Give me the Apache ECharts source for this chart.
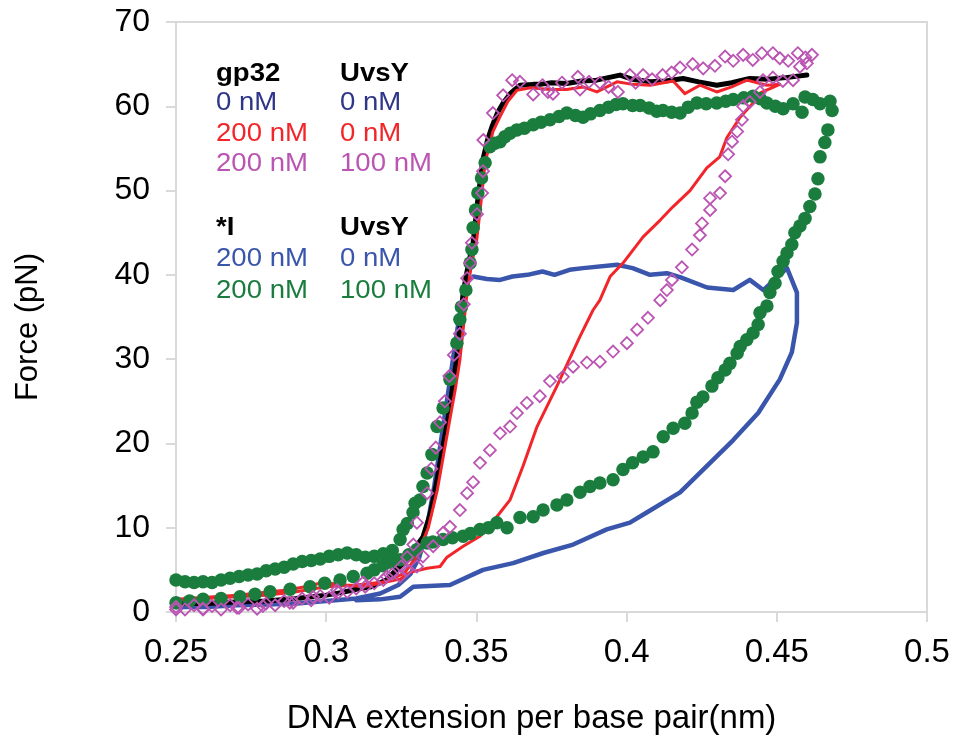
<!DOCTYPE html>
<html>
<head>
<meta charset="utf-8">
<title>Force–extension curves</title>
<script src="https://cdn.jsdelivr.net/npm/echarts@6/dist/echarts.min.js"></script>
<style>
  html, body { margin: 0; padding: 0; background: #fff; }
  #chart { width: 955px; height: 743px; }
</style>
</head>
<body>
<div id="chart"></div>
<script>
// Axis ranges (nm per base pair, pN)
const xRange = { min: 0.25, max: 0.5, interval: 0.05 };
const yRange = { min: 0, max: 70, interval: 10 };

// gp32 0 nM, UvsY 0 nM — stretch and relax overlap
const bare = [
  [0.25,1.0],[0.26,1.0],[0.27,1.2],[0.28,1.3],[0.29,1.6],[0.30,2.0],[0.305,2.3],[0.31,2.7],
  [0.315,3.0],[0.32,3.8],[0.3256,5.8],[0.33,7.8],[0.3322,8.9],[0.3345,11.5],[0.3356,13.3],
  [0.3369,15.7],[0.3385,19],[0.3405,22.8],[0.342,26.5],[0.3434,29.9],[0.3446,34],[0.3456,37.9],
  [0.3472,41],[0.3489,43.8],[0.3505,49],[0.3522,53.7],[0.3537,56],[0.3552,57.6],[0.357,59.2],
  [0.3589,60.4],[0.3615,61.6],[0.3645,62.5],[0.3689,62.6],[0.3712,62.6],[0.375,62.8],[0.3801,62.7],
  [0.385,63.0],[0.39,63.1],[0.3978,63.7],[0.402,63.2],[0.4078,62.9],[0.413,63.0],[0.4188,63.3],
  [0.424,62.9],[0.43,62.5],[0.435,62.8],[0.441,63.3],[0.447,63.2],[0.453,63.4],[0.46,63.7]
];

// gp32 200 nM, UvsY 0 nM — stretch then relax
const gp32 = [
  [0.25,1.4],[0.26,1.6],[0.27,1.8],[0.28,2.0],[0.29,2.4],[0.30,3.0],[0.31,3.2],[0.32,3.6],
  [0.326,4.6],[0.33,6.5],[0.334,10],[0.337,14.5],[0.339,18.5],[0.341,22.5],[0.343,26.5],
  [0.3445,29.9],[0.3469,37.9],[0.3485,41.5],[0.35,43.8],[0.3515,48.5],[0.3529,53.3],[0.3555,57],
  [0.3579,58.8],[0.3605,60.6],[0.3635,61.9],[0.368,62.2],[0.3745,62.0],[0.38,62.0],[0.3855,62.3],
  [0.3901,61.7],[0.3968,62.9],[0.402,62.6],[0.4078,62.5],[0.4155,63.0],[0.4194,61.5],[0.4244,62.5],
  [0.43,61.7],[0.435,62.3],[0.44,63.1],[0.4467,62.5],[0.451,62.6],
  [0.4445,61.6],[0.4421,60.4],[0.4378,58.7],[0.4334,56.3],[0.431,54],[0.4267,52.7],[0.4211,50],
  [0.4155,48.1],[0.4112,46.5],[0.4055,44.5],[0.3988,41.4],[0.3945,39.8],[0.3911,37],[0.3888,35.8],
  [0.3845,32.7],[0.3768,26.8],[0.3702,22],[0.3655,17.3],[0.3612,13.3],[0.3568,11.3],[0.3512,9.0],
  [0.3456,7.8],[0.3402,6.5],[0.3379,5.4],[0.3336,5.2],[0.3279,4.7],[0.3246,3.9],[0.3123,3.0],
  [0.304,3.3],[0.2989,3.5],[0.293,3.0],[0.287,2.6],[0.2703,2.0],[0.25,1.5]
];

// gp32 200 nM, UvsY 100 nM
const gp32UvsY = [
  [0.25,0.6],[0.253,0.3],[0.256,0.8],[0.259,0.4],[0.262,0.7],[0.265,0.3],[0.268,0.8],[0.271,0.5],
  [0.274,0.9],[0.277,0.4],[0.28,1.0],[0.283,0.8],[0.286,1.3],[0.289,1.1],[0.292,1.6],[0.295,1.4],
  [0.298,1.9],[0.301,1.7],[0.304,2.3],[0.307,2.4],[0.31,2.8],[0.313,3.0],[0.316,3.4],[0.319,3.8],
  [0.322,4.5],[0.325,5.4],[0.327,6.5],[0.329,8.0],[0.3302,10.6],[0.3336,14.1],[0.335,17],
  [0.3365,19.5],[0.3379,22.5],[0.3395,25],[0.341,28],[0.3425,30.5],[0.3445,33],[0.3458,36.5],
  [0.3469,39.6],[0.3479,41.4],[0.3485,43.8],[0.3502,47.2],[0.3519,49.7],[0.3522,52.3],[0.3523,56],
  [0.3555,59.2],[0.3589,61.3],[0.3619,63.1],[0.3645,62.9],[0.3689,61.4],[0.372,62.5],[0.3738,61.7],
  [0.3755,61.5],[0.3785,62.8],[0.3838,63.5],[0.3845,62.0],[0.3875,62.9],[0.3911,62.8],[0.394,62.3],
  [0.3971,61.7],[0.4011,63.7],[0.403,62.8],[0.4055,63.7],[0.4085,63.2],[0.412,63.7],[0.415,64.0],
  [0.4178,64.6],[0.422,65.0],[0.4255,64.5],[0.4294,64.8],[0.4328,65.9],[0.4355,65.4],[0.4388,66.1],
  [0.442,65.5],[0.445,66.3],[0.4487,66.3],[0.451,65.7],[0.4538,65.4],[0.457,66.3],[0.4595,65.8],
  [0.4617,66.1],
  [0.46,65.1],[0.4577,64.7],[0.4554,63.1],[0.452,63.0],[0.4487,63.4],[0.4454,63.1],[0.4444,61.7],
  [0.441,60.5],[0.4388,60.0],[0.4384,58.4],[0.4368,57.0],[0.4351,55.8],[0.4338,54.3],[0.4328,51.7],
  [0.4311,49.7],[0.4278,49.1],[0.4278,47.7],[0.4251,46.1],[0.4244,44.7],[0.4218,43.0],[0.4184,40.9],
  [0.4151,39.4],[0.4134,38.2],[0.4112,37.0],[0.4071,34.9],[0.4035,33.5],[0.4001,31.9],[0.3955,30.9],
  [0.3911,29.7],[0.3868,29.6],[0.3822,29.1],[0.3788,27.9],[0.3745,27.4],[0.3711,25.6],[0.3668,24.8],
  [0.3635,23.6],[0.3612,22.0],[0.3579,21.2],[0.3545,19.2],[0.3512,17.7],[0.3489,15.4],[0.3469,14.1],
  [0.3445,12.1],[0.3412,10.1],[0.3389,9.4],[0.3356,7.8],[0.3322,6.6],[0.3302,5.4],[0.3269,5.0],
  [0.3246,4.2],[0.3202,4.2],[0.3123,3.5],[0.3036,2.6],[0.2956,1.8],[0.2879,1.1],[0.2789,0.7],
  [0.2703,0.5],[0.259,0.3],[0.25,0.3]
];

// *I 200 nM, UvsY 0 nM
const starI = [
  [0.25,0.6],[0.26,0.6],[0.27,0.8],[0.28,0.9],[0.29,1.0],[0.30,1.3],[0.31,1.6],[0.318,2.2],
  [0.324,3.2],[0.328,4.5],[0.331,6.5],[0.3335,10],[0.336,15],[0.3385,21],[0.341,27],[0.343,32],
  [0.345,36.5],[0.3465,39],[0.3489,39.8],[0.3535,39.5],[0.3579,39.4],[0.362,39.8],[0.367,40.0],
  [0.372,40.4],[0.376,40.0],[0.381,40.6],[0.3855,40.8],[0.3968,41.2],[0.402,40.8],[0.4078,40.0],
  [0.4134,40.2],[0.418,39.7],[0.4268,38.5],[0.4355,38.2],[0.441,39.4],[0.4455,38.2],[0.4534,40.8],
  [0.4567,37.9],[0.4567,34.3],[0.455,30.8],[0.451,27.6],[0.4438,23.6],[0.4355,20.4],[0.4244,16.5],
  [0.4178,14.2],[0.4067,11.8],[0.4011,10.6],[0.3934,9.8],[0.3822,8.0],[0.3723,7.0],[0.3622,5.8],
  [0.3522,5.0],[0.3412,3.2],[0.329,3.0],[0.3246,1.8],[0.318,1.5],[0.31,1.4]
];

// *I 200 nM, UvsY 100 nM
const starIUvsY = [
  [0.25,3.8],[0.253,3.6],[0.256,3.5],[0.259,3.6],[0.262,3.5],[0.265,3.8],[0.268,4.0],[0.271,4.2],
  [0.274,4.4],[0.277,4.5],[0.28,4.9],[0.283,5.1],[0.286,5.3],[0.289,5.7],[0.292,6.0],[0.295,6.1],
  [0.298,6.3],[0.301,6.6],[0.304,6.8],[0.307,7.0],[0.31,6.8],[0.313,6.5],[0.316,6.6],[0.319,6.9],
  [0.322,7.3],[0.3246,8.6],[0.3256,9.8],[0.327,10.5],[0.3289,11.8],[0.3296,12.9],[0.3312,13.3],
  [0.3322,14.9],[0.3336,16.5],[0.3352,18.7],[0.3369,22],[0.3389,24.2],[0.3412,27.6],[0.3435,31.9],
  [0.3445,34.7],[0.345,36.2],[0.3465,38.2],[0.3479,41.4],[0.3485,43],[0.3489,45.6],[0.3497,47.7],
  [0.3505,49.7],[0.3517,51.5],[0.3529,53.3],[0.3545,55.2],[0.356,55.6],[0.3579,55.8],[0.3595,56.4],
  [0.3612,56.8],[0.3635,57.2],[0.366,57.4],[0.3689,57.8],[0.3715,58.1],[0.3745,58.4],[0.3775,58.8],
  [0.3801,59.2],[0.383,58.9],[0.3855,58.7],[0.388,59.1],[0.3911,59.5],[0.394,59.9],[0.3965,60.2],
  [0.3988,60.3],[0.402,60.1],[0.4045,60.1],[0.4075,59.8],[0.41,59.4],[0.4121,59.5],[0.415,59.3],
  [0.4178,59.2],[0.4205,59.9],[0.4234,60.4],[0.4265,60.3],[0.43,60.4],[0.433,60.6],[0.4355,60.8],
  [0.439,61.0],[0.4421,61.2],[0.4445,60.9],[0.4467,60.4],[0.4495,60.0],[0.4521,59.7],[0.4554,60.3],
  [0.4584,59.3],[0.4594,61.1],[0.462,60.8],[0.4644,60.3],[0.4677,60.6],[0.4684,59.5],
  [0.467,57.2],[0.466,55.7],[0.4644,54.0],[0.4637,51.4],[0.4627,49.6],[0.461,48.1],[0.4594,46.7],
  [0.4577,45.8],[0.456,45.0],[0.455,43.6],[0.4534,42.6],[0.4521,41.6],[0.4504,40.4],[0.4494,39.0],
  [0.4477,37.9],[0.4467,36.3],[0.4444,35.5],[0.4438,34.1],[0.4421,33.1],[0.44,32.3],[0.4378,31.5],
  [0.4368,30.7],[0.4344,29.5],[0.4328,28.7],[0.4304,27.8],[0.4284,26.8],[0.4254,25.5],[0.4234,24.9],
  [0.4218,23.6],[0.4194,22.4],[0.4155,21.8],[0.4122,20.8],[0.4088,19.0],[0.4055,18.4],[0.402,17.7],
  [0.3988,16.9],[0.3955,15.7],[0.3911,15.3],[0.3878,14.9],[0.3845,14.2],[0.3801,13.3],[0.3768,12.7],
  [0.3722,12.1],[0.3689,11.3],[0.3645,11.2],[0.3602,10.0],[0.3568,10.6],[0.354,10.0],[0.3512,9.8],
  [0.348,9.3],[0.3456,9.0],[0.342,8.8],[0.3389,8.6],[0.3355,8.3],[0.3336,8.2],[0.3302,7.4],
  [0.3275,6.8],[0.3246,6.2],[0.3215,5.9],[0.3189,5.5],[0.316,5.0],[0.3136,4.6],[0.309,4.2],
  [0.3046,3.8],[0.2995,3.4],[0.2946,3.0],[0.288,2.7],[0.2813,2.4],[0.2763,2.1],[0.2713,1.8],
  [0.265,1.6],[0.259,1.5],[0.2545,1.3],[0.25,1.1]
];

// Key: two column blocks with headers
const keyHeaders = [['gp32', 'UvsY'], ['*I', 'UvsY']];
const keyRows = [
  ['0 nM', '0 nM', '#2D3688'],
  ['200 nM', '0 nM', '#F2262A'],
  ['200 nM', '100 nM', '#BB55B3'],
  ['200 nM', '0 nM', '#3A56AC'],
  ['200 nM', '100 nM', '#1A7D3E']
];

const FONT = '"Liberation Sans", Arial, sans-serif';
const chart = echarts.init(document.getElementById('chart'), null, { renderer: 'canvas' });

// text layout for the key
const keyX = [216, 340];
const keyLineY = [74, 103, 134, 164, 228, 259, 291];
const keyOrder = [
  { row: keyHeaders[0], color: '#000', bold: true },
  { row: keyRows[0], color: keyRows[0][2] },
  { row: keyRows[1], color: keyRows[1][2] },
  { row: keyRows[2], color: keyRows[2][2] },
  { row: keyHeaders[1], color: '#000', bold: true },
  { row: keyRows[3], color: keyRows[3][2] },
  { row: keyRows[4], color: keyRows[4][2] }
];
const keyGraphics = [];
keyOrder.forEach((line, i) => {
  [0, 1].forEach(c => {
    keyGraphics.push({
      type: 'text',
      x: keyX[c],
      y: keyLineY[i],
      scaleX: 1.06,
      style: {
        text: line.row[c],
        fill: line.color,
        font: (line.bold ? 'bold ' : '') + '26px ' + FONT,
        textVerticalAlign: 'middle',
        verticalAlign: 'middle'
      }
    });
  });
});

const lineSeries = (name, data, color, width) => ({
  name, type: 'line', data, showSymbol: false, symbol: 'none',
  lineStyle: { color, width, join: 'round', cap: 'round' },
  itemStyle: { color }, z: 3
});

const option = {
  animation: false,
  backgroundColor: '#fff',
  grid: {
    left: 176, right: 28, top: 22, bottom: 131,
    show: true, borderColor: '#d9d9d9', borderWidth: 2
  },
  xAxis: {
    type: 'value',
    min: xRange.min, max: xRange.max, interval: xRange.interval,
    name: 'DNA extension per base pair(nm)',
    nameLocation: 'middle', nameGap: 90,
    nameTextStyle: { fontFamily: FONT, fontSize: 33, color: '#000', padding: [0, 40, 0, 0] },
    axisLine: { show: true, lineStyle: { color: '#d9d9d9', width: 2 } },
    axisTick: { show: true, length: 10, lineStyle: { color: '#d9d9d9', width: 2 } },
    splitLine: { show: false },
    axisLabel: {
      fontFamily: FONT, fontSize: 33, color: '#000', margin: 24,
      formatter: v => String(+v.toFixed(2))
    }
  },
  yAxis: {
    type: 'value',
    min: yRange.min, max: yRange.max, interval: yRange.interval,
    name: 'Force (pN)',
    nameLocation: 'middle', nameGap: 132,
    nameTextStyle: { fontFamily: FONT, fontSize: 31, color: '#000', padding: [0, 20, 0, 0] },
    axisLine: { show: true, lineStyle: { color: '#d9d9d9', width: 2 } },
    axisTick: { show: true, length: 10, lineStyle: { color: '#d9d9d9', width: 2 } },
    splitLine: { show: false },
    axisLabel: { fontFamily: FONT, fontSize: 32, color: '#000', margin: 26 }
  },
  graphic: keyGraphics,
  series: [
    lineSeries('*I 200 nM, UvsY 0 nM', starI, '#3A56AC', 4.5),
    {
      name: '*I 200 nM, UvsY 100 nM', type: 'scatter', data: starIUvsY,
      symbol: 'circle', symbolSize: 13.5,
      itemStyle: { color: '#1A7D3E', opacity: 1 }, z: 4
    },
    lineSeries('gp32 0 nM, UvsY 0 nM', bare, '#000000', 5),
    lineSeries('gp32 200 nM, UvsY 0 nM', gp32, '#F2262A', 3),
    {
      name: 'gp32 200 nM, UvsY 100 nM', type: 'scatter', data: gp32UvsY,
      symbol: 'diamond', symbolSize: 12,
      itemStyle: { color: 'rgba(255,255,255,0)', borderColor: '#BB55B3', borderWidth: 1.8, opacity: 1 },
      z: 5
    }
  ]
};

chart.setOption(option);
</script>
</body>
</html>
